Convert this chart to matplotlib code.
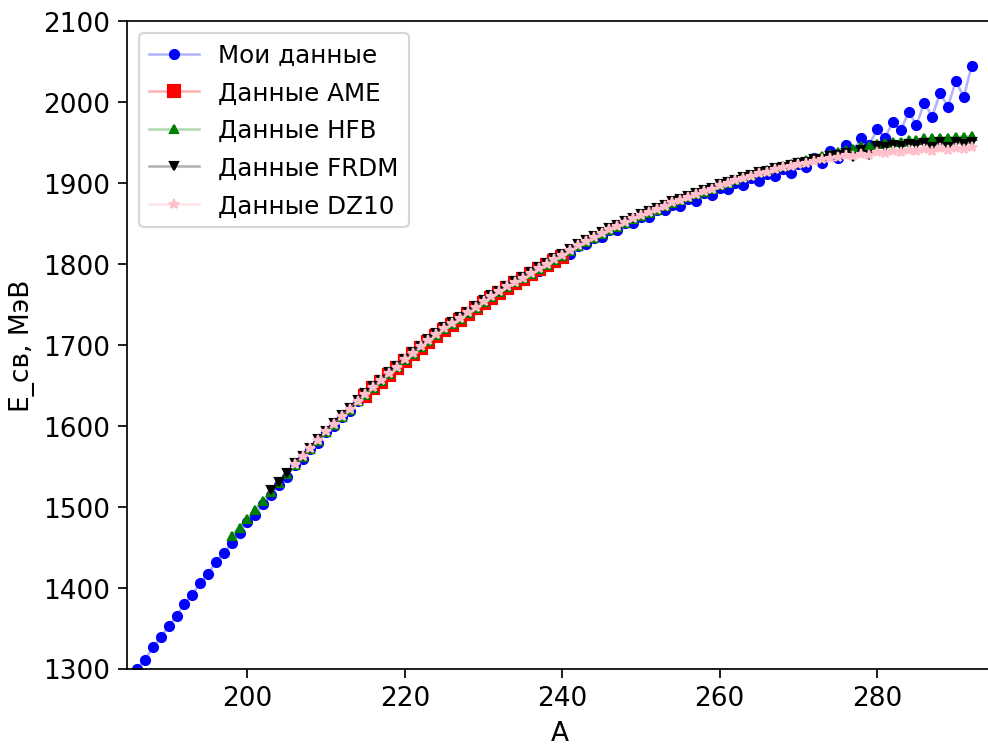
import numpy as np
import matplotlib
matplotlib.use('Agg')
import matplotlib.pyplot as plt

# mass numbers
a_my = np.arange(186, 293)
a_ame = np.arange(215, 241)
a_hfb = np.arange(198, 293)
a_frdm = np.arange(203, 293)
a_dz10 = np.arange(206, 293)

# binding energies, MeV
e_my = [1300, 1311, 1326, 1339, 1352, 1365, 1380, 1391, 1406, 1417,
        1432, 1443, 1455, 1468, 1481, 1490, 1503, 1514, 1527, 1537,
        1552, 1559, 1571, 1579, 1592, 1599, 1611, 1618, 1630, 1636,
        1647, 1653, 1664, 1670, 1681, 1687, 1697, 1703, 1712, 1718,
        1726, 1730, 1739, 1744, 1753, 1757, 1765, 1769, 1777, 1780,
        1788, 1791, 1799, 1802, 1810, 1812, 1822, 1824, 1832, 1833,
        1842, 1842, 1850, 1851, 1858, 1858, 1866, 1866, 1873, 1872,
        1880, 1878, 1887, 1885, 1894, 1892, 1900, 1897, 1906, 1902,
        1911, 1908, 1917, 1912, 1923, 1919, 1931, 1925, 1940, 1931,
        1947, 1939, 1956, 1947, 1966, 1956, 1975, 1965, 1987, 1972,
        1999, 1982, 2011, 1994, 2026, 2006, 2044]

e_ame = [1637, 1646, 1654, 1663, 1671, 1680, 1688, 1696, 1704, 1711,
         1718, 1725, 1731, 1738, 1745, 1752, 1758, 1764, 1770, 1776,
         1781, 1787, 1793, 1799, 1804, 1809]

e_hfb = [1464, 1474, 1485, 1496, 1507, 1518, 1529, 1540,
         1552, 1561, 1571, 1581, 1592, 1601, 1611, 1620, 1630, 1638,
         1647, 1655, 1664, 1672, 1681, 1689, 1697, 1705, 1712, 1720,
         1726, 1732, 1739, 1746, 1753, 1759, 1765, 1771, 1777, 1782,
         1788, 1794, 1799, 1805, 1810, 1816, 1822, 1827, 1832, 1837,
         1842, 1846, 1851, 1855, 1859, 1863, 1867, 1871, 1875, 1879,
         1882, 1886, 1889, 1893, 1897, 1900, 1904, 1907, 1910, 1913,
         1916, 1918, 1921, 1923, 1926, 1928, 1931, 1933, 1936, 1938,
         1941, 1942, 1945, 1946, 1948, 1949, 1951, 1951, 1953, 1953,
         1955, 1955, 1956, 1956, 1957, 1957, 1958]

e_frdm = [1520, 1531, 1542,
          1554, 1563, 1573, 1583, 1594, 1603, 1613, 1622, 1632, 1640,
          1649, 1657, 1666, 1674, 1683, 1691, 1699, 1707, 1714, 1722,
          1728, 1734, 1741, 1748, 1755, 1761, 1767, 1773, 1779, 1784,
          1790, 1796, 1801, 1807, 1812, 1818, 1824, 1829, 1834, 1839,
          1844, 1848, 1853, 1857, 1861, 1865, 1869, 1873, 1877, 1880,
          1884, 1887, 1891, 1894, 1898, 1901, 1904, 1907, 1910, 1913,
          1915, 1918, 1920, 1922, 1924, 1926, 1929, 1930, 1933, 1934,
          1937, 1932, 1941, 1934, 1945, 1944, 1947, 1946, 1948, 1947,
          1949, 1944, 1950, 1944, 1950, 1948, 1950]

e_dz10 = [1553, 1562, 1572, 1582, 1593, 1602, 1612, 1621, 1631, 1639,
          1648, 1656, 1665, 1673, 1682, 1690, 1698, 1706, 1713, 1721,
          1727, 1733, 1740, 1747, 1754, 1760, 1766, 1772, 1778, 1783,
          1789, 1795, 1800, 1806, 1811, 1817, 1823, 1828, 1833, 1838,
          1843, 1847, 1852, 1856, 1860, 1864, 1868, 1872, 1876, 1879,
          1883, 1886, 1890, 1893, 1897, 1900, 1903, 1906, 1909, 1912,
          1914, 1917, 1919, 1921, 1923, 1925, 1927, 1929, 1931, 1932,
          1934, 1933, 1936, 1935, 1938, 1937, 1940, 1938, 1941, 1939,
          1942, 1940, 1943, 1941, 1943, 1942, 1944]

plt.rcParams['xtick.major.size'] = 4.2
plt.rcParams['ytick.major.size'] = 4.2

fig = plt.figure(figsize=(6.4, 4.822), dpi=154.5)
ax = fig.add_axes([127 / 989, 75.5 / 745, 866 / 989, 647.5 / 745])

ax.plot(a_my, e_my, '-o', color=(0, 0, 1, 0.3), mfc='blue', mec='blue',
        ms=4.2, lw=1.2, label='Мои данные')
ax.plot(a_ame, e_ame, '-s', color=(1, 0, 0, 0.3), mfc='red', mec='red',
        ms=5.5, lw=1.2, label='Данные AME')
ax.plot(a_hfb, e_hfb, '-^', color=(0, 0.5, 0, 0.3), mfc='green', mec='green',
        ms=4, lw=1.2, label='Данные HFB')
ax.plot(a_frdm, e_frdm, '-v', color=(0, 0, 0, 0.3), mfc='black', mec='black',
        ms=3.8, lw=1.2, label='Данные FRDM')
ax.plot(a_dz10, e_dz10, '-*', color=(1, 0.75, 0.8, 0.4), mfc='pink', mec='pink',
        ms=4.5, lw=1.2, label='Данные DZ10')

ax.set_xlim(184.7, 294.7)
ax.set_ylim(1300, 2100)
ax.tick_params(labelsize=12.3)
ax.set_xlabel('A', fontsize=12.3)
ax.set_ylabel('E_св, МэВ', fontsize=12.3)
ax.legend(loc='upper left', fontsize=11.5, labelspacing=0.55)

fig.savefig('out.png', dpi=154.5)
